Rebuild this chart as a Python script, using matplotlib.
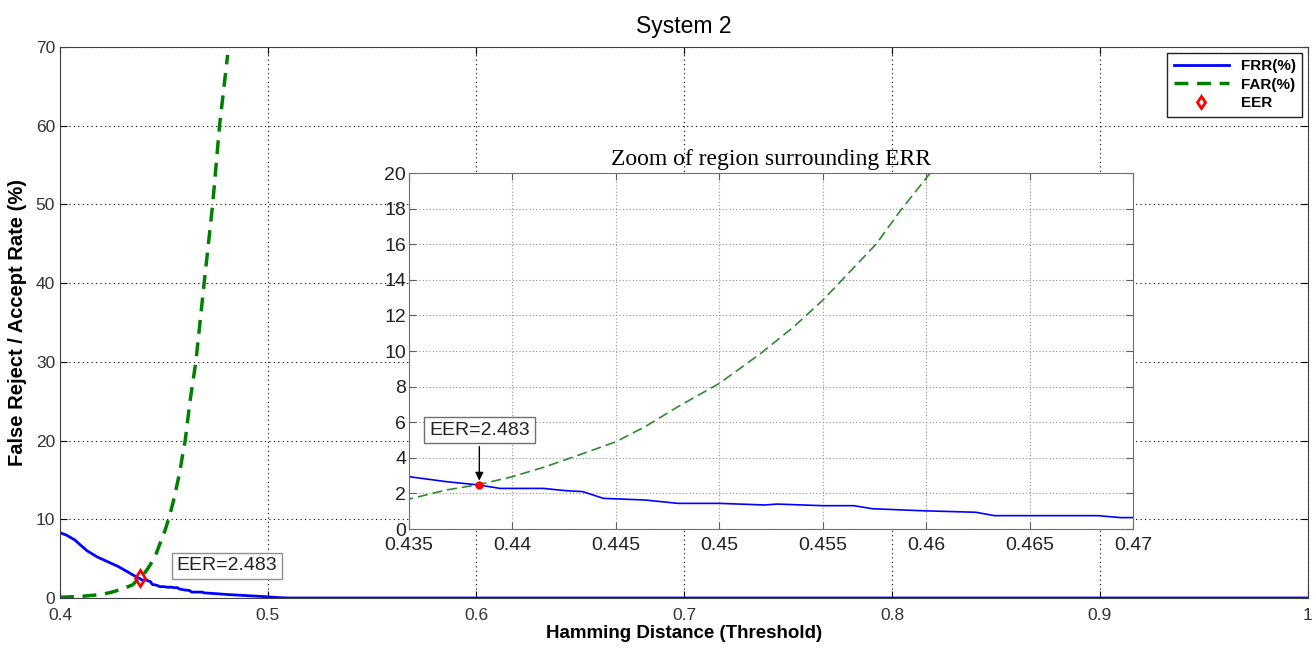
import matplotlib
matplotlib.use("Agg")
import matplotlib.pyplot as plt
from matplotlib.ticker import FormatStrFormatter

# threshold values and rates
thr = [0.400, 0.403, 0.407, 0.410, 0.413, 0.418, 0.423, 0.428, 0.432, 0.435,
       0.4368, 0.4384, 0.4394, 0.4400, 0.4415, 0.4426, 0.4434, 0.4444, 0.4464,
       0.4480, 0.4500, 0.4522, 0.4528, 0.4550, 0.4565, 0.4574, 0.4597, 0.4624,
       0.4633, 0.4683, 0.4694, 0.4700, 0.4750, 0.4800, 0.4900, 0.5000, 0.5050,
       0.5100, 1.0]
frr = [8.3, 8.0, 7.4, 6.7, 6.0, 5.2, 4.6, 4.0, 3.4, 2.94,
       2.66, 2.47, 2.28, 2.28, 2.28, 2.15, 2.10, 1.72, 1.63,
       1.44, 1.44, 1.35, 1.40, 1.31, 1.31, 1.14, 1.03, 0.94,
       0.75, 0.75, 0.64, 0.64, 0.55, 0.45, 0.30, 0.15, 0.05,
       0.0, 0.0]

far_thr = [0.400, 0.410, 0.420, 0.425, 0.430, 0.435, 0.4368, 0.4384, 0.4400,
           0.4416, 0.4432, 0.4450, 0.4464, 0.4480, 0.4500, 0.4520, 0.4536,
           0.4550, 0.4560, 0.4576, 0.4587, 0.4602, 0.4625, 0.4653, 0.4693,
           0.4734, 0.4767, 0.4806]
far = [0.1, 0.2, 0.45, 0.75, 1.15, 1.68, 2.19, 2.5, 2.94,
       3.5, 4.15, 4.9, 5.74, 6.87, 8.18, 9.86, 11.36,
       12.85, 14.07, 16.03, 17.8, 20.0, 25.0, 30.0, 40.0,
       50.0, 60.0, 69.0]

eer_x = 0.4384
eer_y = 2.483

plt.rcParams['font.family'] = ['Liberation Sans', 'DejaVu Sans']

fig = plt.figure(figsize=(13.16, 6.48), dpi=100)
ax = fig.add_axes([60/1316, 50/648, 1248/1316, 551/648])

ax.plot(thr, frr, color="#0000ff", lw=2, label="FRR(%)")
ax.plot(far_thr, far, color="#008000", lw=2.5, ls=(0, (4, 2.5)), label="FAR(%)")
ax.plot([eer_x], [eer_y], ls="none", marker="d", ms=8, mfc="none",
        mec="red", mew=2, label="EER")
ax.text(0.4803, 4.07, "EER=2.483", ha="center", va="center", fontsize=14,
        color="#222222",
        bbox=dict(boxstyle="square,pad=0.25", fc="white", ec="#909090"))

ax.set_xlim(0.4, 1.0)
ax.set_ylim(0, 70)
ax.set_xticks([0.4, 0.5, 0.6, 0.7, 0.8, 0.9, 1.0])
ax.set_yticks(range(0, 71, 10))
ax.xaxis.set_major_formatter(FormatStrFormatter("%g"))
ax.tick_params(direction="in", top=True, right=True, labelsize=12.5, length=5,
               labelcolor="#333333")
ax.tick_params(axis="x", pad=7)
ax.grid(True, color="black", ls=(0, (1, 3)), lw=0.8)
for s in ax.spines.values():
    s.set_color("#404040")
ax.set_xlabel("Hamming Distance (Threshold)", fontsize=13.5, fontweight="bold", labelpad=2)
ax.set_ylabel("False Reject / Accept Rate (%)", fontsize=14.5, fontweight="bold",
              labelpad=6)
ax.set_title("System 2", fontsize=16.5, pad=10)

leg = ax.legend(loc="upper right", prop={"weight": "bold", "size": 11},
                fancybox=False, framealpha=1, edgecolor="#202020",
                handlelength=3.6, borderaxespad=0.4, labelspacing=0.3,
                markerscale=0.8)

# zoomed inset
ins = fig.add_axes([409/1316, 119/648, 724/1316, 356/648])
ins.plot(thr, frr, color="#0000ff", lw=1.2)
ins.plot(far_thr, far, color="#2e8b2e", lw=1.2, ls=(0, (6, 3)))
ins.plot([eer_x], [eer_y], ls="none", marker="o", ms=5, color="red")
ins.annotate("EER=2.483", xy=(eer_x, eer_y), xytext=(eer_x, 5.56),
             ha="center", va="center", fontsize=14, color="#222222",
             bbox=dict(boxstyle="square,pad=0.25", fc="white", ec="#707070"),
             arrowprops=dict(arrowstyle="-|>", color="black", lw=1,
                             shrinkB=3, mutation_scale=12))
ins.set_xlim(0.435, 0.47)
ins.set_ylim(0, 20)
ins.set_xticks([0.435, 0.44, 0.445, 0.45, 0.455, 0.46, 0.465, 0.47])
ins.set_yticks(range(0, 21, 2))
ins.xaxis.set_major_formatter(FormatStrFormatter("%g"))
ins.tick_params(direction="in", top=True, right=True, labelsize=14, length=5,
                color="#606060", labelcolor="#222222")
ins.tick_params(axis="y", pad=2)
ins.tick_params(axis="x", pad=6)
ins.grid(True, color="#909090", ls=(0, (1, 2)), lw=0.8)
for s in ins.spines.values():
    s.set_color("#707070")
ins.set_title("Zoom of region surrounding ERR", fontsize=17,
              family=["Liberation Serif", "DejaVu Serif"], pad=6)

fig.savefig("out.png", dpi=100)
